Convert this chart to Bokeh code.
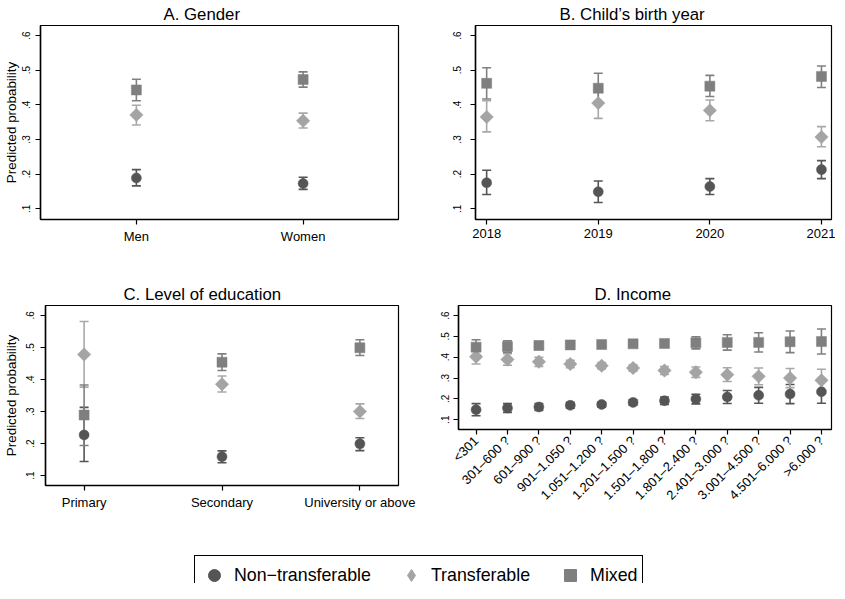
import numpy as np
from bokeh.plotting import figure
from bokeh.models import (FixedTicker, CustomJSTickFormatter, Range1d, Whisker, TeeHead,
                          ColumnDataSource, Legend, LegendItem)
from bokeh.layouts import column, row
from bokeh.embed import file_html
from bokeh.resources import INLINE

FONT = "Liberation Sans"

# ---------------- data ----------------
series_names = ["Non\u2212transferable", "Transferable", "Mixed"]
y_ticks = [0.1, 0.2, 0.3, 0.4, 0.5, 0.6]

# A. Gender
gender_cats = ["Men", "Women"]
gender_nt = [0.189, 0.173]
gender_nt_lo = [0.166, 0.156]
gender_nt_hi = [0.213, 0.191]
gender_tr = [0.371, 0.354]
gender_tr_lo = [0.342, 0.333]
gender_tr_hi = [0.399, 0.376]
gender_mx = [0.443, 0.473]
gender_mx_lo = [0.412, 0.451]
gender_mx_hi = [0.474, 0.495]

# B. Child's birth year
year_cats = [2018, 2019, 2020, 2021]
year_nt = [0.175, 0.149, 0.164, 0.213]
year_nt_lo = [0.141, 0.118, 0.141, 0.187]
year_nt_hi = [0.211, 0.180, 0.187, 0.239]
year_tr = [0.365, 0.405, 0.384, 0.307]
year_tr_lo = [0.322, 0.361, 0.354, 0.279]
year_tr_hi = [0.412, 0.448, 0.414, 0.337]
year_mx = [0.462, 0.448, 0.454, 0.482]
year_mx_lo = [0.417, 0.405, 0.424, 0.450]
year_mx_hi = [0.507, 0.491, 0.485, 0.512]

# C. Level of education
edu_cats = ["Primary", "Secondary", "University or above"]
edu_nt = [0.227, 0.159, 0.199]
edu_nt_lo = [0.144, 0.140, 0.178]
edu_nt_hi = [0.313, 0.177, 0.218]
edu_tr = [0.478, 0.385, 0.300]
edu_tr_lo = [0.376, 0.361, 0.278]
edu_tr_hi = [0.581, 0.411, 0.324]
edu_mx = [0.289, 0.454, 0.499]
edu_mx_lo = [0.194, 0.428, 0.475]
edu_mx_hi = [0.383, 0.480, 0.524]

# D. Income
inc_cats = ["<301", "301\u2013600 ?", "601\u2013900 ?", "901\u20131.050 ?", "1.051\u20131.200 ?",
            "1.201\u20131.500 ?", "1.501\u20131.800 ?", "1.801\u20132.400 ?", "2.401\u20133.000 ?",
            "3.001\u20134.500 ?", "4.501\u20136.000 ?", ">6.000 ?"]
inc_nt = [0.148, 0.156, 0.161, 0.169, 0.173, 0.183, 0.191, 0.199, 0.209, 0.217, 0.223, 0.234]
inc_nt_lo = [0.119, 0.135, 0.144, 0.155, 0.161, 0.170, 0.173, 0.176, 0.178, 0.179, 0.177, 0.179]
inc_nt_hi = [0.177, 0.177, 0.178, 0.183, 0.185, 0.196, 0.209, 0.222, 0.240, 0.255, 0.269, 0.289]
inc_tr = [0.402, 0.389, 0.378, 0.367, 0.359, 0.348, 0.336, 0.328, 0.316, 0.308, 0.300, 0.289]
inc_tr_lo = [0.367, 0.361, 0.356, 0.349, 0.344, 0.333, 0.317, 0.303, 0.283, 0.268, 0.254, 0.236]
inc_tr_hi = [0.437, 0.417, 0.400, 0.385, 0.374, 0.363, 0.355, 0.353, 0.349, 0.348, 0.346, 0.342]
inc_mx = [0.448, 0.451, 0.456, 0.459, 0.461, 0.464, 0.466, 0.469, 0.471, 0.471, 0.474, 0.475]
inc_mx_lo = [0.412, 0.423, 0.437, 0.448, 0.452, 0.454, 0.451, 0.440, 0.434, 0.425, 0.422, 0.415]
inc_mx_hi = [0.484, 0.479, 0.475, 0.470, 0.470, 0.474, 0.481, 0.498, 0.508, 0.517, 0.526, 0.535]

# ---------------- styles ----------------
COLORS = ["#555555", "#a4a4a4", "#7f7f7f"]
BAR_COLORS = ["#555555", "#a8a8a8", "#808080"]
MARKERS = ["circle", "square", "square"]
ANGLES = [0.0, np.pi / 4, 0.0]
SIZES = [10, 9.5, 10]
LEGEND_MARKERS = ["circle", "diamond", "square"]


def panel(title, cats, series, width, height, borders, xr, yr, ylabel=None,
          numeric_x=False, rotate=None, ylab_standoff=8, axlab_standoff=-1, title_offset=0):
    left, right, top, bottom = borders
    p = figure(width=width, height=height, min_border_left=left, min_border_right=right,
               min_border_top=top, min_border_bottom=bottom,
               x_range=Range1d(*xr), y_range=Range1d(*yr),
               output_backend="svg", toolbar_location=None)
    p.frame_align = False
    p.title.text = title
    p.title.align = "left"
    p.title.offset = title_offset
    p.title.text_font = FONT
    p.title.text_font_size = "16.8px"
    p.title.text_font_style = "normal"
    p.title.text_color = "black"
    p.title.standoff = 4
    p.xgrid.visible = False
    p.ygrid.visible = False
    p.outline_line_color = "black"
    p.outline_line_width = 1.2
    p.outline_line_alpha = 1.0
    p.background_fill_color = "white"
    p.border_fill_color = "white"

    if numeric_x:
        xs = list(cats)
    else:
        xs = list(range(1, len(cats) + 1))
    p.xaxis.ticker = FixedTicker(ticks=xs)
    if not numeric_x:
        p.xaxis.major_label_overrides = {x: c for x, c in zip(xs, cats)}
    p.yaxis.ticker = FixedTicker(ticks=y_ticks)
    p.yaxis.formatter = CustomJSTickFormatter(code="return tick.toFixed(1).replace(/^0/, '');")

    for ax in (p.xaxis[0], p.yaxis[0]):
        ax.axis_line_color = "black"
        ax.axis_line_width = 1.5
        ax.major_tick_line_color = "black"
        ax.major_tick_line_width = 1.2
        ax.major_tick_in = 0
        ax.major_tick_out = 5
        ax.minor_tick_line_color = None
        ax.major_label_text_font = FONT
        ax.major_label_text_color = "black"
    p.xaxis.major_label_text_font_size = "13px"
    p.xaxis.major_label_standoff = 4
    p.yaxis.major_label_text_font_size = "10px"
    p.yaxis.major_label_orientation = "vertical"
    p.yaxis.major_label_standoff = ylab_standoff
    if rotate is not None:
        p.xaxis.major_label_orientation = rotate
    if ylabel:
        p.yaxis.axis_label = ylabel
        p.yaxis.axis_label_text_font = FONT
        p.yaxis.axis_label_text_font_size = "13.4px"
        p.yaxis.axis_label_text_font_style = "normal"
        p.yaxis.axis_label_text_color = "black"
        p.yaxis.axis_label_standoff = axlab_standoff

    for (v, lo, hi), c, bc, m, a, s in zip(series, COLORS, BAR_COLORS, MARKERS, ANGLES, SIZES):
        src = ColumnDataSource(dict(x=xs, y=v, lo=lo, hi=hi))
        w = Whisker(source=src, base="x", upper="hi", lower="lo", dimension="height",
                    line_color=bc, line_width=1.6, level="underlay",
                    upper_head=TeeHead(size=9, line_color=bc, line_width=1.6),
                    lower_head=TeeHead(size=9, line_color=bc, line_width=1.6))
        p.add_layout(w)
    for (v, lo, hi), c, bc, m, a, s in zip(series, COLORS, BAR_COLORS, MARKERS, ANGLES, SIZES):
        src = ColumnDataSource(dict(x=xs, y=v))
        p.scatter(x="x", y="y", source=src, marker=m, angle=a, size=s,
                  fill_color=c, line_color=c, line_width=0.5)
    return p


pA = panel("A. Gender", gender_cats,
           [(gender_nt, gender_nt_lo, gender_nt_hi), (gender_tr, gender_tr_lo, gender_tr_hi),
            (gender_mx, gender_mx_lo, gender_mx_hi)],
           412, 277, (37, 14, 21, 58), (0.425, 2.572), (0.069, 0.629),
           ylabel="Predicted probability", ylab_standoff=5, axlab_standoff=1, title_offset=123)
pB = panel("B. Child\u2019s birth year", year_cats,
           [(year_nt, year_nt_lo, year_nt_hi), (year_tr, year_tr_lo, year_tr_hi),
            (year_mx, year_mx_lo, year_mx_hi)],
           423, 277, (63, 4, 21, 58), (2017.9, 2021.09), (0.069, 0.629), numeric_x=True,
           ylab_standoff=9, title_offset=84)
pC = panel("C. Level of education", edu_cats,
           [(edu_nt, edu_nt_lo, edu_nt_hi), (edu_tr, edu_tr_lo, edu_tr_hi),
            (edu_mx, edu_mx_lo, edu_mx_hi)],
           420, 260, (41, 22, 28, 52), (0.72, 3.28), (0.069, 0.631),
           ylabel="Predicted probability", ylab_standoff=6, axlab_standoff=5, title_offset=78)
pD = panel("D. Income", inc_cats,
           [(inc_nt, inc_nt_lo, inc_nt_hi), (inc_tr, inc_tr_lo, inc_tr_hi),
            (inc_mx, inc_mx_lo, inc_mx_hi)],
           415, 260, (38, 4, 28, 108), (0.44, 12.32), (0.053, 0.648), rotate=np.pi / 4,
           ylab_standoff=4, title_offset=136)

# ---------------- legend ----------------
pL = figure(width=835, height=46, min_border=0, x_range=Range1d(0, 1), y_range=Range1d(0, 1),
            x_axis_location=None, y_axis_location=None,
            output_backend="svg", toolbar_location=None)
pL.grid.visible = False
pL.outline_line_color = None
items = []
for name, c, m in zip(series_names, COLORS, LEGEND_MARKERS):
    r = pL.scatter(x=[np.nan], y=[np.nan], marker=m, fill_color=c, line_color=c)
    items.append(LegendItem(label=name, renderers=[r]))
legend = Legend(items=items, orientation="horizontal", location=(194, -12),
                border_line_color="black", border_line_width=1, border_line_alpha=1,
                background_fill_color="white", background_fill_alpha=1,
                padding=4, spacing=25, label_standoff=5, glyph_width=30, glyph_height=30,
                label_text_font=FONT, label_text_font_size="17.8px", label_text_color="black",
                margin=0)
pL.add_layout(legend)

layout = column(row(pA, pB), row(pC, pD), pL)
open("out.html", "w").write(file_html(layout, INLINE))
